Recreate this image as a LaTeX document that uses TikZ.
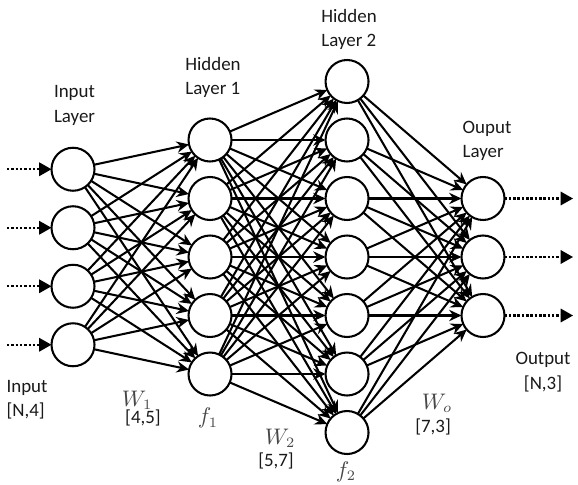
\documentclass[tikz,border=0pt]{standalone}
\usepackage{fontspec}
\setmainfont{Carlito}
\usepackage{tkz-graph}
\usetikzlibrary{arrows.meta}

\tikzset{
  lbl/.style={align=left, text=black!90, font=\fontsize{9.2}{11.8}\selectfont, inner sep=0pt},
  mlbl/.style={text=black!72, font=\fontsize{10.5}{12}\selectfont, inner sep=0pt},
  dimlbl/.style={text=black!90, font=\fontsize{9.2}{11}\selectfont, inner sep=0pt},
  ioarrow/.style={line width=1pt, dash pattern=on 1.2pt off 0.9pt, -{Triangle[length=6pt,width=6.5pt]}}
}

\begin{document}
\begin{tikzpicture}
      \useasboundingbox (0,0) rectangle (9.88,-8.274);
      \GraphInit[vstyle=Normal]
      \SetVertexNoLabel
      \tikzset{VertexStyle/.style={draw, circle, fill=white, line width=1pt, minimum size=0.735cm, inner sep=0pt},
               EdgeStyle/.style={draw, line width=1pt, -{Stealth[length=6pt,width=5.5pt]}}}
      \SetGraphUnit{1}
      % input layer
      \Vertex[x=1.248,y=-2.893]{I1}
        \SO(I1){I2} \SO(I2){I3} \SO(I3){I4}
      % hidden layer 1
      \Vertex[x=3.59,y=-2.393]{H1}
        \SO(H1){H2} \SO(H2){H3} \SO(H3){H4} \SO(H4){H5}
      % hidden layer 2
      \Vertex[x=5.932,y=-1.393]{G1}
        \SO(G1){G2} \SO(G2){G3} \SO(G3){G4} \SO(G4){G5} \SO(G5){G6} \SO(G6){G7}
      % output layer
      \Vertex[x=8.256,y=-3.393]{O1}
        \SO(O1){O2} \SO(O2){O3}
      % weights
      \foreach \i in {1,...,4}{\foreach \j in {1,...,5}{\Edge(I\i)(H\j)}}
      \foreach \i in {1,...,5}{\foreach \j in {1,...,7}{\Edge(H\i)(G\j)}}
      \foreach \i in {1,...,7}{\foreach \j in {1,...,3}{\Edge(G\i)(O\j)}}
      % data in and out
      \foreach \i/\y in {1/-2.893, 2/-3.893, 3/-4.893, 4/-5.893}{
        \coordinate (x\i) at (0.12,\y);
        \draw[ioarrow] (x\i) -- (I\i);}
      \foreach \i/\y in {1/-3.393, 2/-4.393, 3/-5.393}{
        \coordinate (y\i) at (9.795,\y);
        \draw[ioarrow] (O\i) -- (y\i);}
      % layer names
      \node[lbl] (inlbl) at (1.274,-1.803) {Input\\Layer};
      \node[lbl] (h1lbl) at (3.641,-1.325) {Hidden\\Layer 1};
      \node[lbl] (h2lbl) at (5.966,-0.504) {Hidden\\Layer 2};
      \node[lbl] (outlbl) at (8.325,-2.402) {Ouput\\Layer};
      % shapes
      \node[lbl] (inshape) at (0.462,-6.838) {Input\\{[N,4]}};
      \node[lbl, align=center] (outshape) at (9.282,-6.359) {Output\\{[N,3]}};
      \node[mlbl] (w1) at (2.342,-6.838) {$W_1$};
      \node[dimlbl] (w1dim) at (2.444,-7.145) {[4,5]};
      \node[mlbl] (f1) at (3.556,-7.145) {$f_1$};
      \node[mlbl] (w2) at (4.786,-7.487) {$W_2$};
      \node[dimlbl] (w2dim) at (4.718,-7.88) {[5,7]};
      \node[mlbl] (f2) at (5.915,-8.06) {$f_2$};
      \node[mlbl] (wo) at (7.47,-6.889) {$W_o$};
      \node[dimlbl] (wodim) at (7.402,-7.299) {[7,3]};
\end{tikzpicture}
\end{document}
